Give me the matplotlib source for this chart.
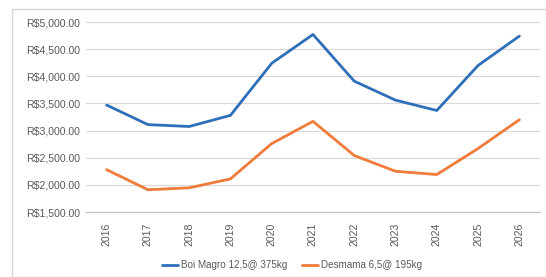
import matplotlib
matplotlib.use("Agg")
import matplotlib.pyplot as plt
from matplotlib.patches import Rectangle
from matplotlib.ticker import FuncFormatter

years = [2016, 2017, 2018, 2019, 2020, 2021, 2022, 2023, 2024, 2025, 2026]
boi_magro = [3470, 3110, 3075, 3280, 4240, 4770, 3910, 3560, 3370, 4200, 4740]
desmama = [2280, 1910, 1945, 2110, 2760, 3170, 2540, 2250, 2190, 2670, 3200]
labels = ["Boi Magro 12,5@ 375kg", "Desmama 6,5@ 195kg"]

plt.rcParams['font.family'] = ['Liberation Sans', 'DejaVu Sans']

W, H = 546, 277
fig = plt.figure(figsize=(W/100, H/100), dpi=100)
fig.patches.append(Rectangle((12/W, 0), 1, 1 - 9/H, transform=fig.transFigure,
                             fill=False, edgecolor='#D9D9D9', linewidth=1))

ax = fig.add_axes([86/W, 1 - 212/H, (540 - 86)/W, (212 - 22)/H])
x = list(range(len(years)))
ax.plot(x, boi_magro, color='#2E6FBA', linewidth=2.0, label=labels[0], solid_capstyle='round')
ax.plot(x, desmama, color='#F07B3A', linewidth=2.0, label=labels[1], solid_capstyle='round')

ax.set_xlim(-0.5, len(years) - 0.5)
ax.set_ylim(1500, 5000)
ax.set_yticks(range(1500, 5001, 500))
ax.yaxis.set_major_formatter(FuncFormatter(lambda v, p: f"R${v:,.2f}"))
ax.set_xticks(x)
ax.set_xticklabels([str(y) for y in years], rotation=90)
ax.grid(axis='y', color='#D9D9D9', linewidth=0.9)
ax.set_axisbelow(True)
for s in ['top', 'right', 'left']:
    ax.spines[s].set_visible(False)
ax.spines['bottom'].set_color('#BFBFBF')
ax.tick_params(axis='both', length=0, labelsize=7.6, colors='#595959', pad=4)
ax.tick_params(axis='x', pad=8)

leg = fig.legend(loc='center', bbox_to_anchor=(292/W, 1 - 265/H), ncol=2, frameon=False,
                 fontsize=7.1, handlelength=1.6, columnspacing=1.5, handletextpad=0.3)
for t in leg.get_texts():
    t.set_color('#595959')

fig.savefig("out.png", dpi=100)
